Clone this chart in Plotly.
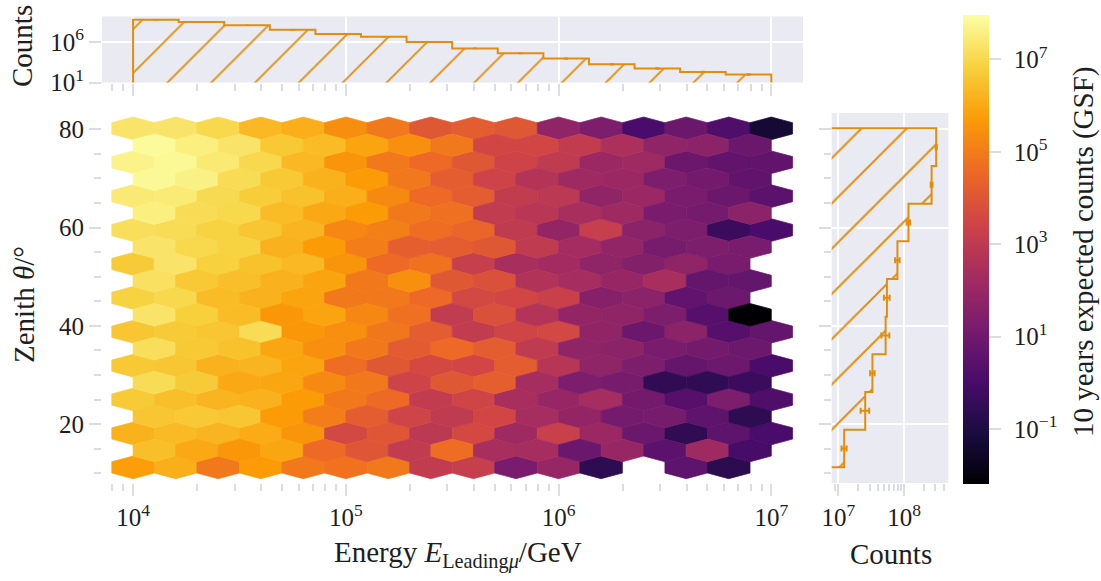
import numpy as np
import plotly.graph_objects as go
from plotly.colors import sample_colorscale

W, H = 1101, 581
FONT = "Liberation Serif"
TXT = "#1e1e1e"
ORANGE = "#e08e0b"
TICKC = "#dcdce6"
BG = "#eaeaf2"

# ---------------- data ----------------
E_LOG_MIN, E_LOG_MAX, N_E = 4.0, 7.0, 15          # hexbin extent (log10 GeV)
THETA_MIN, THETA_MAX, N_THETA = 11.2, 80.2, 10     # hexbin extent (deg)
C_LOG_MIN, C_LOG_MAX = -2.2, 7.95                  # colour range (log10 counts)

# log10(expected counts) of the hexagons, rows from top (zenith max) to bottom
grid1_log_counts = [
    [7.3, 7.3, 7.0, 6.3, 6.1, 5.4, 4.92, 4.05, 4.2, 4.05, 1.75, 1.3, 0.05, 0.85, 0.2, -1.3],
    [7.65, 7.8, 7.4, 7.0, 6.3, 5.55, 4.92, 4.57, 4.05, 3.4, 3.0, 2.05, 2.15, 0.85, 0.65, 0.6],
    [7.4, 7.45, 7.05, 6.73, 6.5, 6.1, 5.3, 4.57, 4.2, 3.05, 2.9, 1.75, 2.05, 1.2, 0.85, 0.45],
    [7.15, 7.1, 6.87, 6.6, 6.24, 5.24, 5.09, 4.65, 4.45, 3.0, 1.85, 3.2, 1.65, 1.3, -0.3, 0.05],
    [6.7, 7.3, 6.83, 6.5, 6.3, 5.55, 4.57, 4.77, 3.2, 2.4, 2.25, 1.75, 1.45, 1.75, 1.2, None],
    [6.87, 7.0, 6.38, 6.18, 5.88, 4.92, 4.92, 4.57, 3.55, 3.5, 3.25, 1.5, 1.65, 0.65, 0.9, None],
    [6.6, 6.7, 6.6, 7.1, 5.6, 5.42, 4.88, 4.2, 3.05, 3.45, 3.55, 1.75, 0.85, 1.65, 0.35, 0.7],
    [6.65, 6.6, 6.18, 6.24, 5.88, 4.65, 4.05, 3.6, 3.5, 4.2, 2.8, 1.75, 1.3, 0.7, 0.9, 0.05],
    [6.7, 6.45, 6.24, 6.18, 5.69, 4.92, 4.57, 3.05, 3.45, 2.4, 1.95, 2.35, 1.05, 0.35, 1.3, 0.2],
    [6.15, 6.34, 6.24, 6.03, 5.55, 3.55, 4.0, 2.9, 3.6, 2.15, 3.25, 2.05, 0.85, -0.6, 0.55, 0.05],
    [5.75, 6.1, 4.92, 5.69, 4.92, 4.77, 4.92, 3.05, 3.2, 1.2, 1.95, -0.65, None, 0.55, -0.7, None],
]
grid2_log_counts = [
    [7.85, 7.55, 7.3, 6.65, 6.38, 5.88, 5.42, 4.92, 3.5, 3.5, 3.05, 2.5, 1.75, 1.65, 0.85],
    [7.8, 7.6, 7.1, 6.65, 6.15, 5.69, 4.92, 4.2, 3.4, 2.7, 2.15, 2.05, 1.3, 1.05, 0.65],
    [7.55, 7.1, 7.0, 6.38, 5.96, 5.69, 4.92, 4.73, 3.05, 2.85, 2.4, 2.15, 1.2, 1.1, 1.65],
    [7.3, 7.0, 6.87, 6.18, 5.69, 5.02, 4.25, 4.2, 4.05, 3.0, 2.3, 1.8, 1.15, 1.3, 1.2],
    [7.2, 6.65, 6.45, 6.18, 5.88, 4.92, 5.42, 4.05, 3.8, 2.65, 2.35, 1.95, 2.4, 0.7, 0.7],
    [7.3, 6.8, 6.38, 5.6, 5.88, 5.24, 4.73, 3.05, 3.8, 2.7, 1.85, 1.75, 1.3, 0.35, -2.2],
    [7.15, 6.65, 6.5, 5.92, 5.42, 4.92, 4.15, 4.57, 4.2, 3.0, 1.75, 1.65, 1.2, 1.05, 0.9],
    [7.1, 6.7, 5.96, 5.92, 5.29, 4.92, 3.4, 4.05, 4.25, 2.35, 1.3, 1.15, -0.55, -0.6, -0.3],
    [6.6, 6.65, 6.6, 5.69, 5.02, 4.2, 3.45, 3.0, 3.5, 2.35, 1.85, 1.1, 1.15, 0.55, -0.65],
    [6.45, 5.96, 5.6, 5.92, 4.57, 4.0, 3.05, 4.65, 2.4, 2.35, 0.85, 1.95, 0.5, 2.15, -0.05],
]

# marginal histogram of energy (14 log bins from 1e4 to 1e7)
energy_counts = [6.0e8, 3.0e8, 1.2e8, 3.3e7, 1.0e7, 4.6e6, 1.0e6, 1.66e5,
                 4.1e4, 9.1e3, 1.86e3, 5.6e2, 2.04e2, 1.0e2]
energy_errors = [2e6, 1.5e6, 1e6, 4e5, 2e5, 1e5, 3e4, 8e3, 3e3, 9e2, 2.5e2, 8e1, 3e1, 1.5e1]
# marginal histogram of zenith (9 bins, bottom to top)
zenith_counts = [1.23e7, 2.57e7, 3.31e7, 5.25e7, 5.5e7, 7.94e7, 1.17e8, 2.63e8, 3.09e8]
zenith_errors = [1.1e6, 3.8e6, 2.6e6, 7.3e6, 5.5e6, 6.3e6, 7e6, 8e6, 6e6]

x_tick_vals = [1e4, 1e5, 1e6, 1e7]
x_tick_text = ["10<sup>4</sup>", "10<sup>5</sup>", "10<sup>6</sup>", "10<sup>7</sup>"]
y_tick_vals = [20, 40, 60, 80]
cb_tick_vals = [-1, 1, 3, 5, 7]
cb_tick_text = ["\u00a0\u200a10<sup>−1</sup>", "\u00a0\u200a10<sup>1</sup>",
                "\u00a0\u200a10<sup>3</sup>", "\u00a0\u200a10<sup>5</sup>",
                "\u00a0\u200a10<sup>7</sup>"]

# ---------------- layout geometry (px) ----------------
def px(xp):
    return xp / W

def py(yp):
    return 1 - yp / H

main_xdom = [px(102), px(803)]
main_ydom = [py(483), py(113)]
top_ydom = [py(82.5), py(16.5)]
right_xdom = [px(831.7), px(948.3)]
E_RANGE = [3.854, 7.149]
TH_RANGE = [8.02, 83.32]

fig = go.Figure()

sx = (E_LOG_MAX - E_LOG_MIN) / N_E
sy = (THETA_MAX - THETA_MIN) / N_THETA
hdx = [0.5, 0.5, 0.0, -0.5, -0.5, 0.0, 0.5]
hdy = [-1 / 6, 1 / 6, 1 / 3, 1 / 6, -1 / 6, -1 / 3, -1 / 6]


def add_hex(cx, cy, v):
    t = (v - C_LOG_MIN) / (C_LOG_MAX - C_LOG_MIN)
    t = min(max(t, 0.0), 1.0)
    col = sample_colorscale("Inferno", [t])[0]
    fig.add_trace(go.Scatter(
        x=[10 ** (cx + d * sx) for d in hdx],
        y=[cy + d * sy for d in hdy],
        mode="lines", fill="toself", fillcolor=col,
        line=dict(width=0.7, color=col),
        hoverinfo="skip", showlegend=False, xaxis="x", yaxis="y"))


for r, row in enumerate(grid1_log_counts):
    for k, v in enumerate(row):
        if v is not None:
            add_hex(E_LOG_MIN + k * sx, THETA_MAX - r * sy, v)
for r, row in enumerate(grid2_log_counts):
    for k, v in enumerate(row):
        if v is not None:
            add_hex(E_LOG_MIN + sx / 2 + k * sx, THETA_MAX - sy / 2 - r * sy, v)

# colorbar carrier
fig.add_trace(go.Scatter(
    x=[None], y=[None], mode="markers", showlegend=False, hoverinfo="skip",
    marker=dict(color=[C_LOG_MIN, C_LOG_MAX], cmin=C_LOG_MIN, cmax=C_LOG_MAX,
                colorscale="Inferno", showscale=True,
                colorbar=dict(x=px(963), xanchor="left", y=py(15.5), yanchor="top",
                              len=469, lenmode="pixels", thickness=26,
                              thicknessmode="pixels", outlinewidth=0,
                              xpad=0, ypad=0,
                              tickvals=cb_tick_vals, ticktext=cb_tick_text,
                              ticks="outside", ticklen=12, tickcolor=TICKC,
                              tickwidth=2,
                              tickfont=dict(family=FONT, size=25, color=TXT))),
    xaxis="x", yaxis="y"))

# ---- top histogram (energy) ----
e_edges = np.logspace(E_LOG_MIN, E_LOG_MAX, len(energy_counts) + 1)
tx, ty = [e_edges[0]], [1.0]
for i, c in enumerate(energy_counts):
    tx += [e_edges[i], e_edges[i + 1]]
    ty += [c, c]
tx += [e_edges[-1]]
ty += [1.0]
fig.add_trace(go.Scatter(
    x=tx, y=ty, mode="lines", fill="toself", fillcolor="rgba(0,0,0,0)",
    fillpattern=dict(shape="/", size=31, solidity=0.06, fgcolor=ORANGE,
                     fgopacity=1, bgcolor="rgba(0,0,0,0)"),
    line=dict(color=ORANGE, width=2), hoverinfo="skip", showlegend=False,
    xaxis="x2", yaxis="y2"))
e_centers = np.sqrt(e_edges[:-1] * e_edges[1:])
fig.add_trace(go.Scatter(
    x=e_centers, y=energy_counts, mode="markers", marker=dict(size=1, color=ORANGE),
    error_y=dict(type="data", array=energy_errors, color=ORANGE, thickness=1.5, width=2),
    hoverinfo="skip", showlegend=False, xaxis="x2", yaxis="y2"))

# ---- right histogram (zenith) ----
z_edges = np.linspace(THETA_MIN, THETA_MAX, len(zenith_counts) + 1)
rx, ry = [1e6], [z_edges[0]]
for i, c in enumerate(zenith_counts):
    rx += [c, c]
    ry += [z_edges[i], z_edges[i + 1]]
rx += [1e6]
ry += [z_edges[-1]]
fig.add_trace(go.Scatter(
    x=rx, y=ry, mode="lines", fill="toself", fillcolor="rgba(0,0,0,0)",
    fillpattern=dict(shape="/", size=32, solidity=0.06, fgcolor=ORANGE,
                     fgopacity=1, bgcolor="rgba(0,0,0,0)"),
    line=dict(color=ORANGE, width=2), hoverinfo="skip", showlegend=False,
    xaxis="x3", yaxis="y3"))
z_centers = (z_edges[:-1] + z_edges[1:]) / 2
fig.add_trace(go.Scatter(
    x=zenith_counts, y=z_centers, mode="markers", marker=dict(size=1, color=ORANGE),
    error_x=dict(type="data", array=zenith_errors, color=ORANGE, thickness=2, width=3),
    hoverinfo="skip", showlegend=False, xaxis="x3", yaxis="y3"))

# ---------------- axes ----------------
tickfont = dict(family=FONT, size=25, color=TXT)
minor_E = [8e3, 9e3] + [m * 10 ** d for d in (4, 5, 6) for m in range(2, 10)]
minor_T = [10, 15, 25, 30, 35, 45, 50, 55, 65, 70, 75]
minor_C = [9e6] + [m * 1e7 for m in range(2, 10)] + [2e8, 3e8, 4e8]

common = dict(ticks="outside", ticklen=12, tickwidth=2, tickcolor=TICKC,
              zeroline=False, showline=False, automargin=False, tickfont=tickfont)
minor_style = dict(ticks="outside", ticklen=7, tickwidth=2, tickcolor=TICKC, showgrid=False)

fig.update_layout(
    xaxis=dict(domain=main_xdom, anchor="y", type="log", range=E_RANGE,
               tickvals=x_tick_vals, ticktext=x_tick_text, showgrid=False,
               minor=dict(tickvals=minor_E, **minor_style), **common),
    yaxis=dict(domain=main_ydom, anchor="x", range=TH_RANGE,
               tickvals=y_tick_vals, showgrid=False,
               minor=dict(tickvals=minor_T, **minor_style), **common),
    xaxis2=dict(domain=main_xdom, anchor="y2", type="log", range=E_RANGE,
                tickvals=x_tick_vals, showticklabels=False, showgrid=True,
                gridcolor="white", gridwidth=2,
                minor=dict(tickvals=minor_E, **minor_style), **common),
    yaxis2=dict(domain=top_ydom, anchor="x2", type="log", range=[1.0, 9.17],
                tickvals=[10, 1e6], ticktext=["10<sup>1</sup>", "10<sup>6</sup>"],
                showgrid=True, gridcolor="white", gridwidth=2, **common),
    xaxis3=dict(domain=right_xdom, anchor="y3", type="log", range=[6.9, 8.674],
                tickvals=[1e7, 1e8], ticktext=["10<sup>7</sup>", "10<sup>8</sup>"],
                showgrid=True, gridcolor="white", gridwidth=2,
                minor=dict(tickvals=minor_C, **minor_style), **common),
    yaxis3=dict(domain=main_ydom, anchor="x3", range=TH_RANGE,
                tickvals=y_tick_vals, showticklabels=False, showgrid=True,
                gridcolor="white", gridwidth=2,
                minor=dict(tickvals=minor_T, **minor_style), **common),
)

# marginal backgrounds
fig.add_shape(type="rect", xref="x2 domain", yref="y2 domain", x0=0, x1=1, y0=0, y1=1,
              fillcolor=BG, line=dict(width=0), layer="below")
fig.add_shape(type="rect", xref="x3 domain", yref="y3 domain", x0=0, x1=1, y0=0, y1=1,
              fillcolor=BG, line=dict(width=0), layer="below")

titlefont = dict(family=FONT, size=29, color=TXT)
ann = [
    dict(text="Energy <i>E</i><sub>Leading<i>μ</i></sub>/GeV", x=px(458), y=py(554),
         xanchor="center", yanchor="middle", textangle=0),
    dict(text="Zenith <i>θ</i>/°", x=px(24), y=py(305), xanchor="center",
         yanchor="middle", textangle=-90),
    dict(text="Counts", x=px(22), y=py(46), xanchor="center", yanchor="middle",
         textangle=-90),
    dict(text="Counts", x=px(891), y=py(554), xanchor="center", yanchor="middle",
         textangle=0),
    dict(text="10 years expected counts (GSF)", x=px(1083), y=py(252),
         xanchor="center", yanchor="middle", textangle=-90),
]
for a in ann:
    fig.add_annotation(xref="paper", yref="paper", showarrow=False, font=titlefont, **a)

fig.update_layout(
    width=W, height=H, margin=dict(l=0, r=0, t=0, b=0),
    paper_bgcolor="white", plot_bgcolor="white",
    font=dict(family=FONT, size=25, color=TXT),
    showlegend=False,
)

fig.write_html("out.html", config={"displayModeBar": False},
               post_script="document.body.style.margin='0px';"
                           "document.body.style.padding='0px';")
